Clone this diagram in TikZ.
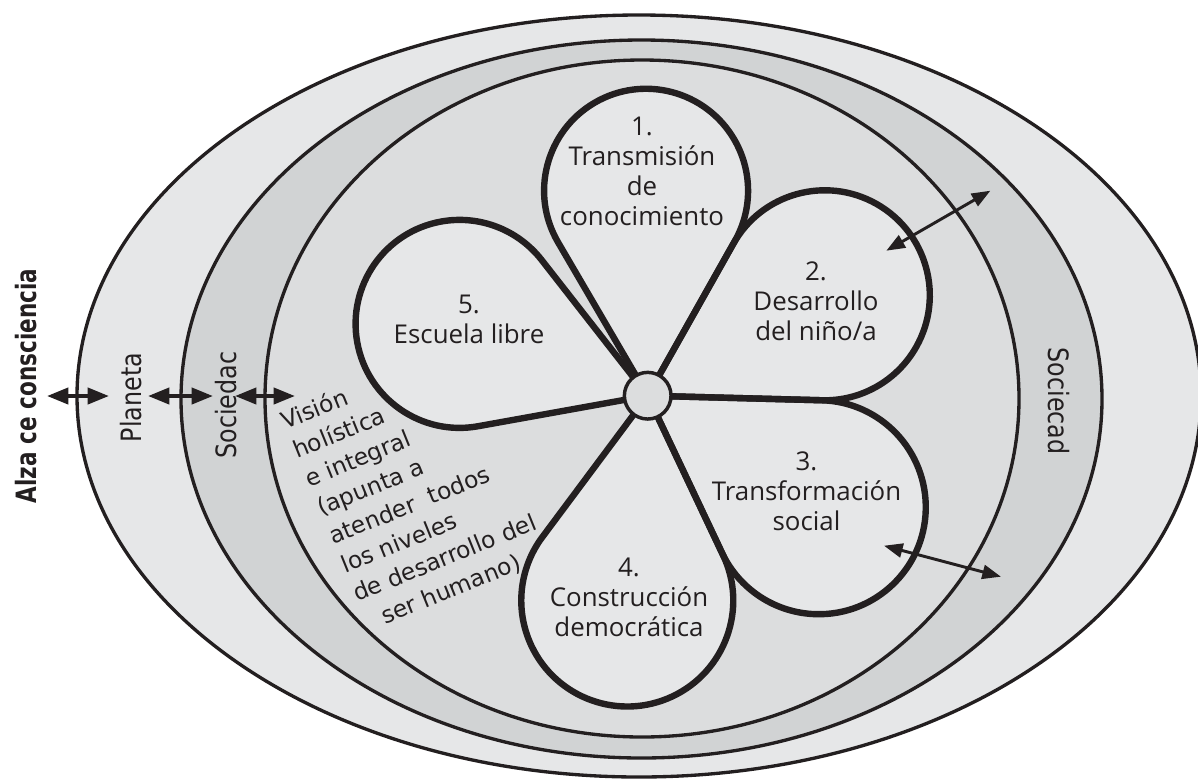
\documentclass[tikz,border=0pt]{standalone}
\usepackage{fontspec}
\setmainfont{Open Sans}
\newfontfamily\lblfont[FakeStretch=0.85]{DejaVu Sans}
\newfontfamily\alzafont[FakeStretch=0.77]{DejaVu Sans Bold}
\newfontfamily\visfont{DejaVu Sans}
\usetikzlibrary{arrows.meta,calc}
\definecolor{ink}{HTML}{231F20}
\definecolor{ringA}{HTML}{E6E7E8}
\definecolor{ringB}{HTML}{D1D3D4}
\definecolor{innercol}{HTML}{DCDDDE}
\definecolor{petalcol}{HTML}{E6E7E8}
\begin{document}
\begin{tikzpicture}[x=0.75pt,y=-0.75pt,
  ring/.style={draw=ink, line width=2.5pt},
  petalfillstyle/.style={fill=petalcol},
  petalline/.style={draw=ink, line width=4.8pt, line join=round},
  hub/.style={circle, draw=ink, fill=innercol, line width=2.6pt, minimum size=35pt, inner sep=0pt},
  petaltext/.style={align=center, font=\fontsize{19.4}{22.5}\selectfont, text=ink, inner sep=0pt},
  sidelabel/.style={font=\lblfont\fontsize{21}{24}\selectfont, text=ink, inner sep=0pt},
  visionline/.style={font=\visfont\fontsize{17.5}{21}\selectfont, text=ink, inner sep=0pt},
  dbl/.style={{Triangle[length=16pt,width=12pt]}-{Triangle[length=16pt,width=12pt]}, draw=ink, line width=3pt},
  diag/.style={{Triangle[length=14pt,width=10.5pt]}-{Triangle[length=14pt,width=10.5pt]}, draw=ink, line width=2.2pt},
]
\useasboundingbox (0,0) rectangle (1198,779);
% rings
\path[ring, fill=ringA] (639,396) ellipse [x radius=562, y radius=381];
\path[ring, fill=ringB] (641.5,399) ellipse [x radius=460.5, y radius=359];
\path[ring, fill=innercol] (642,398.5) ellipse [x radius=377, y radius=338.5];
% petals
\coordinate (hubc) at (647.7,395.7);
\foreach \mode in {petalfillstyle,petalline}{
  \foreach \pa/\pb/\pr in {-120.3/-60.6/102, -60.6/1.5/105, 1.5/64.7/107, 64.7/126.7/106, 169.8/232/104}{
    \pgfmathsetmacro\phalf{(\pb-\pa)/2}
    \pgfmathsetmacro\paxis{(\pa+\pb)/2}
    \pgfmathsetmacro\plen{\pr/tan(\phalf)}
    \pgfmathsetmacro\psa{\paxis-90-\phalf}
    \pgfmathsetmacro\pea{\paxis+90+\phalf}
    \path[\mode] (hubc) -- ++(\pa:\plen) arc[start angle=\psa, end angle=\pea, radius=\pr] -- cycle;
  }
}
\node[hub] (hub) at (hubc) {};
% petal texts
\node[petaltext] (t1) at (642,171) {1.\\Transmisión\\de\\conocimiento};
\node[petaltext] (t2) at (816,301) {2.\\Desarrollo\\del niño/a};
\node[petaltext] (t3) at (806.5,491) {3.\\Transformación\\social};
\node[petaltext] (t4) at (629,597) {4.\\Construcción\\democrática};
\node[petaltext] (t5) at (469,319) {5.\\Escuela libre};
% side labels
\node[sidelabel, font=\alzafont\fontsize{21}{24}\selectfont, rotate=90] (alza) at (25.8,386) {Alza ce consciencia};
\node[sidelabel, rotate=90] (planeta) at (131,397.5) {Planeta};
\node[sidelabel, rotate=90] (socl) at (226,405) {Sociedac};
\node[sidelabel, rotate=-90] (socr) at (1059,401) {Sociecad};
% vision text (rotated lines)
\node[visionline, anchor=base west, rotate=22] (v1) at (285,430) {Visión};
\node[visionline, anchor=base west, rotate=22] (v2) at (297,458.7) {holística};
\node[visionline, anchor=base west, rotate=22] (v3) at (309,487.4) {e integral};
\node[visionline, anchor=base west, rotate=22] (v4) at (321,516) {(apunta a};
\node[visionline, anchor=base west, rotate=22] (v5) at (333,544.8) {atender\ \ todos};
\node[visionline, anchor=base west, rotate=22] (v6) at (345,573.5) {los niveles};
\node[visionline, anchor=base west, rotate=22] (v7) at (357,602) {de desarrollo del};
\node[visionline, anchor=base west, rotate=22] (v8) at (384.8,624.6) {ser humano)};
% arrows
\coordinate (l1a) at (47,396);  \coordinate (l1b) at (109,396);
\coordinate (l2a) at (148,396); \coordinate (l2b) at (213,396);
\coordinate (l3a) at (235,396); \coordinate (l3b) at (295,396);
\draw[dbl] (l1a) -- (l1b);
\draw[dbl] (l2a) -- (l2b);
\draw[dbl] (l3a) -- (l3b);
\coordinate (d1a) at (886.3,250.7); \coordinate (d1b) at (990.4,190.7);
\coordinate (d2a) at (884,545.7);   \coordinate (d2b) at (1001,576.7);
\draw[diag] (d1a) -- (d1b);
\draw[diag] (d2a) -- (d2b);
\end{tikzpicture}
\end{document}
